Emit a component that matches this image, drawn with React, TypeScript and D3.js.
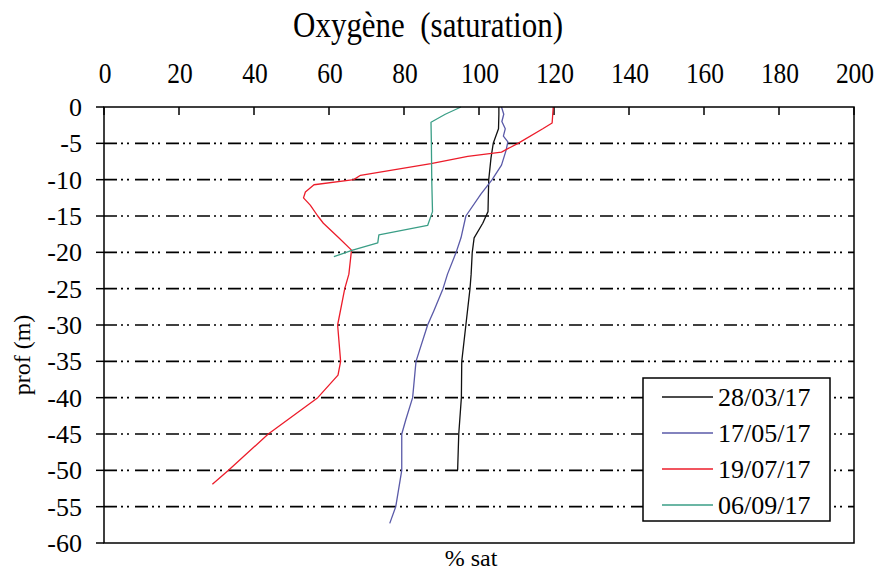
import React from "react";
import * as d3 from "d3";

// Oxygen saturation profiles: depth (m, negative downward) and % saturation
const depth280317 = [0, -1, -3, -4, -5, -7, -10, -12, -14.4, -16, -18, -20, -23, -25, -30, -35, -40, -45, -50];
const sat280317 = [105.3, 105.3, 105.2, 104.5, 103.8, 103.2, 102.6, 102.5, 102.4, 101, 98.7, 98.2, 97.9, 97.6, 96.5, 95.4, 95.3, 94.6, 94.3];

const depth170517 = [0, -1, -2, -3, -4, -4.8, -6, -8, -10, -12, -15, -18, -20, -23, -25, -28, -30, -35, -40, -43, -45, -50, -55, -57.3];
const sat170517 = [106, 106.6, 106.1, 107, 106.5, 107.7, 107.2, 106, 103.5, 100.5, 96.5, 95.2, 93.9, 91.6, 90.4, 88, 86.3, 83.2, 82.3, 80.5, 79.4, 79.4, 77.8, 76.2];

const depth190717 = [0, -2.2, -3, -5, -6.2, -6.8, -7.8, -9.4, -10, -10.7, -11.7, -12.5, -13.5, -15, -16, -18, -19.7, -23, -25, -30, -35, -36.9, -40, -45, -50, -51.9];
const sat190717 = [119.8, 119.5, 117, 110.4, 106, 97, 87.2, 68.4, 66.6, 56, 53.7, 53.2, 55, 57, 58.5, 62.6, 66, 65.3, 64.2, 62.3, 63.1, 62.4, 57, 43.8, 33.2, 28.9];

const depth060917 = [0, -1, -2.1, -5, -10, -14.4, -16.3, -17.6, -18.7, -19.7, -20.6];
const sat060917 = [95.2, 91, 87.2, 87.3, 87.4, 87.6, 86.3, 73.3, 73, 66.3, 61.3];

const seriesNames = ["28/03/17", "17/05/17", "19/07/17", "06/09/17"];
const seriesColors = ["#111111", "#5a5aa8", "#ec1c2a", "#3a9e86"];
const seriesDepths = [depth280317, depth170517, depth190717, depth060917];
const seriesSats = [sat280317, sat170517, sat190717, sat060917];

const xTicks = [0, 20, 40, 60, 80, 100, 120, 140, 160, 180, 200];
const yTicks = [0, -5, -10, -15, -20, -25, -30, -35, -40, -45, -50, -55, -60];

const titleText = "Oxygène\u00a0\u00a0(saturation)";
const xLabel = "% sat";
const yLabel = "prof (m)";

const W = 878;
const H = 570;
const left = 104;
const right = 854;
const top = 107;
const bottom = 543;
const SERIF = "Liberation Serif";

export default function App() {
  const x = d3.scaleLinear().domain([0, 200]).range([left, right]);
  const y = d3.scaleLinear().domain([0, -60]).range([top, bottom]);

  const line = d3
    .line<[number, number]>()
    .x((d) => x(d[1]))
    .y((d) => y(d[0]));

  const legendX = 643;
  const legendY = 378;
  const legendW = 187;
  const legendH = 143;

  return (
    <svg
      width={W}
      height={H}
      fontFamily={SERIF}
      style={{ position: "absolute", left: 0, top: 0 }}
    >
      <rect x={0} y={0} width={W} height={H} fill="#fff" />
      <g transform="translate(428, 37) scale(0.86, 1)">
        <text x={0} y={0} textAnchor="middle" fontFamily={SERIF} fontSize={36} fill="#000">
          {titleText}
        </text>
      </g>

      {/* horizontal grid lines, dash-dot-dot */}
      {yTicks
        .filter((t) => t !== 0 && t !== -60)
        .map((t) => (
          <line
            key={"g" + t}
            x1={left}
            x2={right}
            y1={y(t)}
            y2={y(t)}
            stroke="#000"
            strokeWidth={1.6}
            strokeDasharray="13 4 2 4 2 6"
          />
        ))}

      {/* y ticks and labels */}
      {yTicks.map((t) => (
        <g key={"y" + t}>
          <line x1={left - 8} x2={left} y1={y(t)} y2={y(t)} stroke="#000" strokeWidth={1.5} />
          <text
            x={82}
            y={y(t)}
            dy="0.34em"
            textAnchor="end"
            fontFamily={SERIF}
            fontSize={26}
            fill="#000"
          >
            {t}
          </text>
        </g>
      ))}

      {/* top x ticks and labels */}
      {xTicks.map((t) => (
        <g key={"x" + t}>
          <line x1={x(t)} x2={x(t)} y1={top} y2={top + 8} stroke="#000" strokeWidth={1.5} />
          <g transform={`translate(${x(t) + 1}, 83) scale(0.85, 1)`}>
            <text x={0} y={0} textAnchor="middle" fontFamily={SERIF} fontSize={30} fill="#000">
              {t}
            </text>
          </g>
        </g>
      ))}

      {/* profiles */}
      {seriesNames.map((name, i) => {
        const pts: [number, number][] = seriesDepths[i].map((dv, k) => [dv, seriesSats[i][k]]);
        return (
          <path
            key={name}
            d={line(pts) || ""}
            fill="none"
            stroke={seriesColors[i]}
            strokeWidth={1.3}
            strokeLinejoin="round"
          />
        );
      })}

      {/* plot frame */}
      <rect
        x={left}
        y={top}
        width={right - left}
        height={bottom - top}
        fill="none"
        stroke="#000"
        strokeWidth={1.5}
      />

      {/* legend */}
      <rect
        x={legendX}
        y={legendY}
        width={legendW}
        height={legendH}
        fill="#fff"
        stroke="#000"
        strokeWidth={1.5}
      />
      {seriesNames.map((name, i) => {
        const cy = legendY + 19 + i * 36;
        return (
          <g key={"l" + name}>
            <line x1={662} x2={713} y1={cy} y2={cy} stroke={seriesColors[i]} strokeWidth={1.3} />
            <text x={718} y={cy} dy="0.34em" fontFamily={SERIF} fontSize={26} fill="#000">
              {name}
            </text>
          </g>
        );
      })}

      <text x={471} y={566} textAnchor="middle" fontFamily={SERIF} fontSize={24} fill="#000">
        {xLabel}
      </text>
      <text
        transform={`translate(30, 355) rotate(-90)`}
        textAnchor="middle"
        fontFamily={SERIF}
        fontSize={24}
        fill="#000"
      >
        {yLabel}
      </text>
    </svg>
  );
}
